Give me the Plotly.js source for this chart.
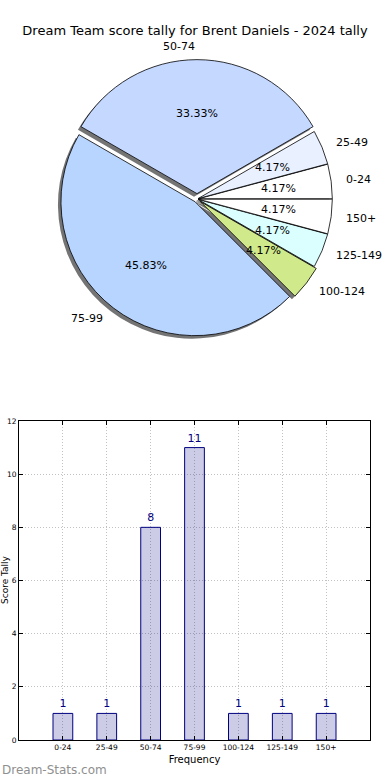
<!DOCTYPE html>
<html><head><meta charset="utf-8">
<script src="https://cdn.plot.ly/plotly-3.0.1.min.js"></script>
<style>html,body{margin:0;padding:0;background:#fff}#chart{width:390px;height:780px}</style>
</head><body><div id="chart"></div>
<script>
const categories = ['0-24','25-49','50-74','75-99','100-124','125-149','150+'];
const tally = [1, 1, 8, 11, 1, 1, 1];
const sliceColors = ['#ffffff','#e9f0ff','#c5d8ff','#b8d5ff','#cfe98b','#dbffff','#ffffff'];
const pulls = [0.01, 0.01, 0.04, 0.025, 0.03, 0.01, 0.01];
const yTicks = [0, 2, 4, 6, 8, 10, 12];

const W = 390, H = 780, M = {l: 19, r: 20, t: 0, b: 40};
const PW = W - M.l - M.r, PH = H - M.t - M.b;
const pieCx = 197, pieCy = 199, pieR = 134;
const maxPull = Math.max(...pulls);
const box = pieR * (2 + 2 * maxPull);
const pxToX = px => (px - M.l) / PW;
const pyToY = py => (H - M.b - py) / PH;
function dom(dx, dy) {
  return {x: [pxToX(pieCx + dx - box / 2), pxToX(pieCx + dx + box / 2)],
          y: [pyToY(pieCy + dy + box / 2), pyToY(pieCy + dy - box / 2)]};
}
const font = 'DejaVu Sans, sans-serif';
const total = tally.reduce((a, b) => a + b, 0);
// first slice starts at 3 o'clock and runs counterclockwise
const rot = 90 - tally[0] / total * 360;

const shadow = {
  type: 'pie', values: tally, labels: categories, sort: false,
  direction: 'counterclockwise', rotation: rot, pull: pulls,
  domain: dom(-3, 3), textinfo: 'none', hoverinfo: 'skip', showlegend: false,
  marker: {colors: tally.map(() => 'rgba(70,70,70,0.75)'), line: {width: 0}}
};
const pie = {
  type: 'pie', values: tally, labels: categories, sort: false,
  direction: 'counterclockwise', rotation: rot, pull: pulls,
  domain: dom(0, 0), textinfo: 'none', showlegend: false,
  marker: {colors: sliceColors, line: {color: '#000000', width: 0.8}}
};
const bars = {
  type: 'bar', x: categories, y: tally, width: 0.45,
  marker: {color: 'rgba(0,0,128,0.2)', line: {color: '#000080', width: 1}},
  text: tally.map(String), textposition: 'outside', cliponaxis: false,
  textfont: {family: font, size: 11, color: '#000080'},
  xaxis: 'x', yaxis: 'y', showlegend: false
};

// text positions around the pie, derived from the values
const annotations = [];
let start = 0;
tally.forEach((v, i) => {
  const span = v / total * 360;
  const mid = (start + span / 2) * Math.PI / 180;
  start += span;
  const c = Math.cos(mid), s = Math.sin(mid);
  const off = pulls[i] * pieR;
  const pr = off + 0.6 * pieR;
  annotations.push({xref: 'paper', yref: 'paper', x: pxToX(pieCx + pr * c), y: pyToY(pieCy - pr * s),
    text: (100 * v / total).toFixed(2) + '%', showarrow: false, xanchor: 'center', yanchor: 'middle',
    font: {family: font, size: 11, color: '#000'}});
  const lr = off + 1.1 * pieR;
  annotations.push({xref: 'paper', yref: 'paper', x: pxToX(pieCx + lr * c), y: pyToY(pieCy - lr * s),
    text: categories[i], showarrow: false, xanchor: c >= 1e-6 ? 'left' : 'right', yanchor: 'middle',
    font: {family: font, size: 11, color: '#000'}});
});
annotations.push({xref: 'paper', yref: 'paper', x: pxToX(0), y: pyToY(770), xanchor: 'left', yanchor: 'middle',
  text: 'Dream-Stats.com', showarrow: false, font: {family: font, size: 12, color: '#8f8f8f'}});
annotations.push({xref: 'paper', yref: 'paper', x: pxToX(5), y: pyToY(580), xanchor: 'center', yanchor: 'middle',
  text: 'Score Tally', textangle: -90, showarrow: false, font: {family: font, size: 9, color: '#000'}});

const gridDash = '1px,2px';
const layout = {
  width: W, height: H, margin: M, paper_bgcolor: '#fff', plot_bgcolor: '#fff',
  font: {family: font, color: '#000'},
  title: {text: 'Dream Team score tally for Brent Daniels - 2024 tally', x: 0.5, xref: 'container',
          y: 1 - 30 / H, yref: 'container', yanchor: 'middle', font: {family: font, size: 13, color: '#000'}},
  xaxis: {domain: [0, 1], range: [-1, 7], type: 'category', showline: true, linecolor: '#000', linewidth: 1,
          mirror: 'ticks', ticks: 'inside', ticklen: 4, tickcolor: '#000', showgrid: true, gridcolor: '#c2c2c2',
          griddash: gridDash, gridwidth: 1, tickfont: {family: font, size: 7.5, color: '#000'},
          title: {text: 'Frequency', font: {family: font, size: 10, color: '#000'}, standoff: 4}, fixedrange: true},
  yaxis: {domain: [0, pyToY(421)], range: [0, 12], tickvals: yTicks, showline: true, linecolor: '#000', linewidth: 1,
          mirror: 'ticks', ticks: 'inside', ticklen: 4, tickcolor: '#000', showgrid: true, gridcolor: '#c2c2c2',
          griddash: gridDash, gridwidth: 1, zeroline: false, tickfont: {family: font, size: 7.5, color: '#000'},
          fixedrange: true},
  annotations: annotations
};
Plotly.newPlot('chart', [shadow, pie, bars], layout, {displayModeBar: false, staticPlot: true});
</script></body></html>
